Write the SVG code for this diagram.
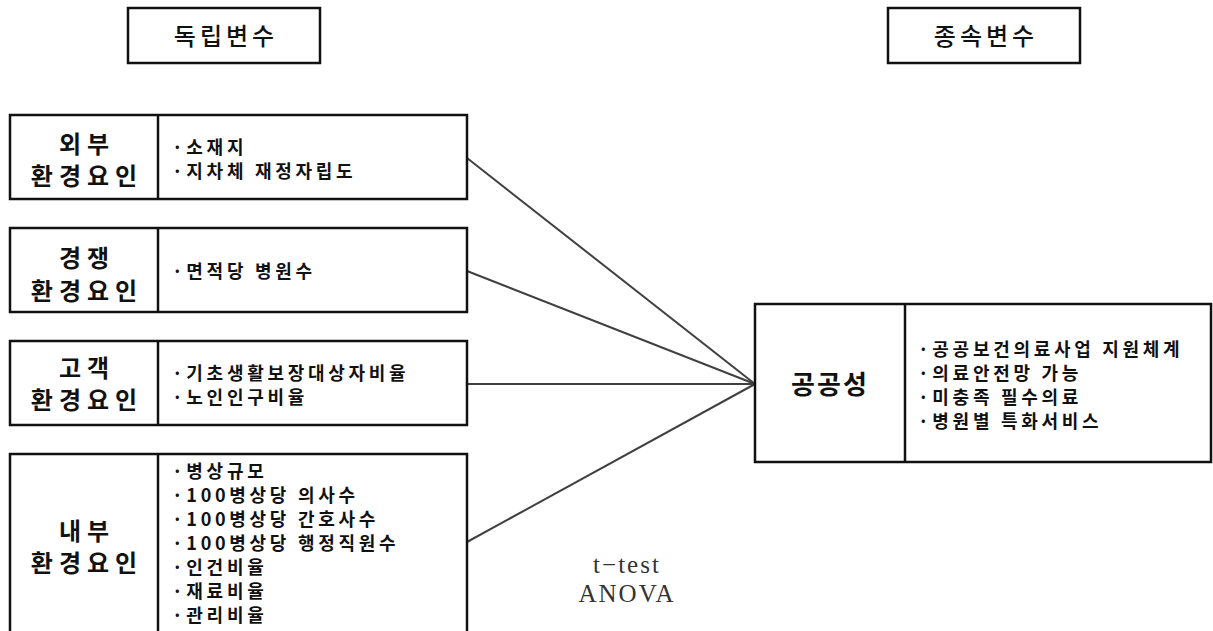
<svg xmlns="http://www.w3.org/2000/svg" width="1213" height="631" viewBox="0 0 1213 631">
<style>
.box{fill:#fff;stroke:#111;stroke-width:2.5}
.div{stroke:#111;stroke-width:2.5}
.conn{stroke:#404040;stroke-width:2;fill:none}
.hd{font-family:"Noto Sans CJK KR","Noto Sans",sans-serif;font-size:24px;font-weight:500;letter-spacing:4px;fill:#111;text-anchor:middle}
.lab{font-family:"Noto Sans CJK KR","Noto Sans",sans-serif;font-size:24px;font-weight:700;letter-spacing:6px;fill:#111;text-anchor:middle}
.big{font-family:"Noto Sans CJK KR","Noto Sans",sans-serif;font-size:26px;font-weight:700;letter-spacing:2px;fill:#111;text-anchor:middle}
.it{font-family:"Noto Sans CJK KR","Noto Sans",sans-serif;font-size:18px;font-weight:700;letter-spacing:3.7px;fill:#111}
.stat{font-family:"Liberation Serif","DejaVu Serif",serif;font-size:25px;letter-spacing:2px;fill:#333;text-anchor:middle}
</style>
<rect width="1213" height="631" fill="#fff"/>
<g id="connectors">
<line class="conn" x1="467" y1="158" x2="755" y2="384"/>
<line class="conn" x1="467" y1="271" x2="755" y2="384"/>
<line class="conn" x1="467" y1="384" x2="755" y2="384"/>
<line class="conn" x1="467" y1="542" x2="755" y2="384"/>
</g>
<g id="header-independent">
<rect class="box" x="128" y="8" width="192" height="55"/>
<text class="hd" x="226" y="45">독립변수</text>
</g>
<g id="header-dependent">
<rect class="box" x="888" y="8" width="192" height="55"/>
<text class="hd" x="986" y="45">종속변수</text>
</g>
<g id="node-external">
<rect class="box" x="10" y="115" width="457" height="84"/>
<line class="div" x1="158" y1="115" x2="158" y2="199"/>
<text class="lab" x="87" y="152.5">외부</text>
<text class="lab" x="87" y="184.5">환경요인</text>
<text class="it" x="172" y="154">·소재지</text>
<text class="it" x="172" y="178">·지차체 재정자립도</text>
</g>
<g id="node-competition">
<rect class="box" x="10" y="228" width="457" height="84"/>
<line class="div" x1="158" y1="228" x2="158" y2="312"/>
<text class="lab" x="87" y="266.5">경쟁</text>
<text class="lab" x="87" y="299.5">환경요인</text>
<text class="it" x="172" y="278">·면적당 병원수</text>
</g>
<g id="node-customer">
<rect class="box" x="10" y="341" width="457" height="84"/>
<line class="div" x1="158" y1="341" x2="158" y2="425"/>
<text class="lab" x="87" y="377">고객</text>
<text class="lab" x="87" y="409">환경요인</text>
<text class="it" x="172" y="380">·기초생활보장대상자비율</text>
<text class="it" x="172" y="404">·노인인구비율</text>
</g>
<g id="node-internal">
<rect class="box" x="10" y="454" width="457" height="182"/>
<line class="div" x1="158" y1="454" x2="158" y2="636"/>
<text class="lab" x="87" y="539.5">내부</text>
<text class="lab" x="87" y="571.5">환경요인</text>
<text class="it" x="172" y="478">·병상규모</text>
<text class="it" x="172" y="502">·100병상당 의사수</text>
<text class="it" x="172" y="526">·100병상당 간호사수</text>
<text class="it" x="172" y="550">·100병상당 행정직원수</text>
<text class="it" x="172" y="574">·인건비율</text>
<text class="it" x="172" y="598">·재료비율</text>
<text class="it" x="172" y="622">·관리비율</text>
</g>
<g id="node-publicness">
<rect class="box" x="755" y="304" width="456" height="158"/>
<line class="div" x1="905" y1="304" x2="905" y2="462"/>
<text class="big" x="830" y="394">공공성</text>
<text class="it" x="918" y="356">·공공보건의료사업 지원체계</text>
<text class="it" x="918" y="380">·의료안전망 가능</text>
<text class="it" x="918" y="404">·미충족 필수의료</text>
<text class="it" x="918" y="428">·병원별 특화서비스</text>
</g>
<g id="stat-label">
<text class="stat" x="627" y="573">t−test</text>
<text class="stat" x="627" y="602">ANOVA</text>
</g>
</svg>
